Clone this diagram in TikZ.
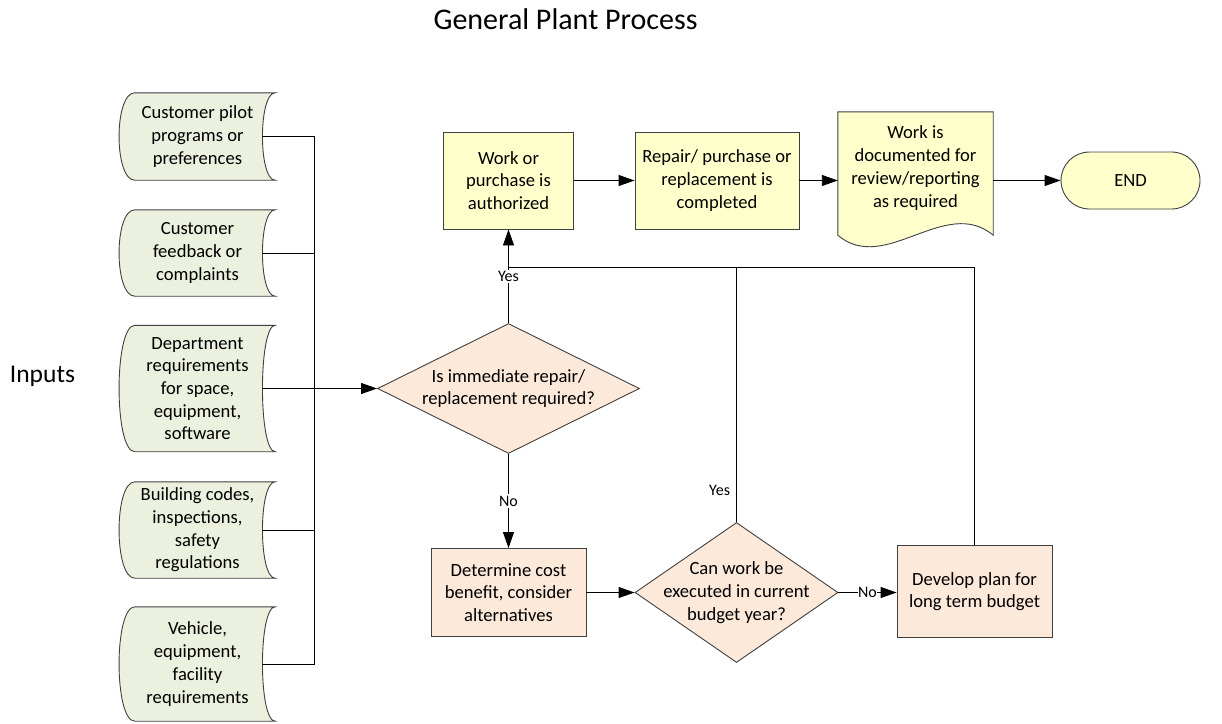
\documentclass[tikz,border=0pt]{standalone}
\usepackage{fontspec}
\setmainfont{Carlito}
\usetikzlibrary{shapes.geometric,arrows.meta,calc}
\pgfdeclarelayer{background}
\pgfsetlayers{background,main}

\definecolor{ingreen}{HTML}{EBF1DE}
\definecolor{boxyellow}{HTML}{FFFFCC}
\definecolor{peach}{HTML}{FDE9D9}
\definecolor{edge}{HTML}{404040}

% stored-data outline drawn behind a named node
\newcommand\storedshape[1]{%
  \begin{pgfonlayer}{background}
  \filldraw[fill=ingreen, draw=edge, line width=0.9pt]
    ([xshift=15pt]#1.north west) -- (#1.north east)
    .. controls ([xshift=-17pt]#1.north east) and ([xshift=-17pt]#1.south east) .. (#1.south east)
    -- ([xshift=15pt]#1.south west)
    .. controls ([xshift=-6pt]#1.south west) and ([xshift=-6pt]#1.north west) .. cycle;
  \end{pgfonlayer}}

\begin{document}
\begin{tikzpicture}[x=1pt,y=-1pt,
  font=\fontsize{18.6}{22.7}\selectfont,
  link/.style={draw=black, line width=0.9pt},
  flow/.style={link, -{Triangle[length=16pt,width=11pt]}},
  tag/.style={font=\fontsize{16}{19}\selectfont, fill=white, inner sep=1.5pt},
  inbox/.style={minimum width=155pt, inner sep=0pt, align=center},
  procbox/.style={rectangle, draw=edge, line width=0.9pt, inner sep=0pt, align=center},
  yellowbox/.style={procbox, fill=boxyellow},
  peachbox/.style={procbox, fill=peach},
  decision/.style={diamond, draw=edge, line width=0.9pt, fill=peach, inner sep=0pt},
  plain/.style={align=center, inner sep=0pt}]

\useasboundingbox (0,0) rectangle (1222,723);

% headings
\node[anchor=base, font=\fontsize{30}{36}\selectfont] (title) at (565.5,29) {General Plant Process};
\node[anchor=base, font=\fontsize{25.5}{30}\selectfont] (inputs) at (42.5,382) {Inputs};

% inputs
\node[inbox, minimum height=87pt] (in1) at (197.5,136.5) {Customer pilot\\programs or\\preferences};
\node[inbox, minimum height=86pt] (in2) at (197.5,253) {Customer\\feedback or\\complaints};
\node[inbox, minimum height=126pt] (in3) at (197.5,388.5) {Department\\requirements\\for space,\\equipment,\\software};
\node[inbox, minimum height=96pt] (in4) at (197.5,530) {Building codes,\\inspections,\\safety\\regulations};
\node[inbox, minimum height=114pt] (in5) at (197.5,664) {Vehicle,\\equipment,\\facility\\requirements};
\storedshape{in1}
\storedshape{in2}
\storedshape{in3}
\storedshape{in4}
\storedshape{in5}

% top row
\node[yellowbox, minimum width=130pt, minimum height=97pt] (box1) at (508.5,180.5) {Work or\\purchase is\\authorized};
\node[yellowbox, minimum width=164pt, minimum height=97pt] (box2) at (717,180.5) {Repair/ purchase or\\replacement is\\completed};
\node[minimum width=155pt, minimum height=123pt, inner sep=0pt] (doc) at (915.5,173.5) {};
\node[plain] (docT) at (915.5,168) {Work is\\documented for\\review/reporting\\as required};
\begin{pgfonlayer}{background}
\filldraw[fill=boxyellow, draw=edge, line width=0.9pt]
  (doc.north west) -- (doc.north east) -- (doc.south east)
  .. controls ($(doc.south east)+(-48,-40)$) and ($(doc.south west)+(47,40)$) .. (doc.south west) -- cycle;
\end{pgfonlayer}
\node[yellowbox, minimum width=139pt, minimum height=57pt, rounded corners=28.4pt] (fin) at (1130.5,180.5) {END};

% decisions and lower row
\node[decision, minimum width=262pt, minimum height=130pt] (d1) at (508.5,388.5) {};
\node[plain] (d1t) at (d1.center) {Is immediate repair/\\replacement required?};
\node[peachbox, minimum width=155pt, minimum height=88pt] (cost) at (508.5,592.5) {Determine cost\\benefit, consider\\alternatives};
\node[decision, minimum width=203pt, minimum height=140pt] (d2) at (736.5,592.5) {};
\node[plain] (d2t) at (d2.center) {Can work be\\executed in current\\budget year?};
\node[peachbox, minimum width=155pt, minimum height=92pt] (dev) at (974.5,591.5) {Develop plan for\\long term budget};

\coordinate (busx) at (314,0);
\coordinate (join) at (508.5,267);

% input bus
\draw[link] ([xshift=-13pt]in1.east) -- (in1.east -| busx) -- (in5.east -| busx) -- ([xshift=-13pt]in5.east);
\draw[link] ([xshift=-13pt]in2.east) -- (in2.east -| busx);
\draw[link] ([xshift=-13pt]in4.east) -- (in4.east -| busx);
\draw[flow] ([xshift=-13pt]in3.east) -- (d1.west);

% flow
\draw[flow] (d1.north) -- node[tag] (yes1) {Yes} (box1.south);
\draw[flow] (d1.south) -- node[tag] (no1) {No} (cost.north);
\draw[flow] (cost.east) -- (d2.west);
\draw[flow] (d2.east) -- node[tag, inner sep=0.5pt] (no2) {No} (d2.east -| dev.west);
\draw[link] (d2.north) -- node[pos=0.125, left, font=\fontsize{16}{19}\selectfont, inner sep=6pt] (yes2) {Yes} (d2.north |- join);
\draw[link] (dev.north) |- (join);
\draw[flow] (box1.east) -- (box2.west);
\draw[flow] (box2.east) -- (box2.east -| doc.west);
\draw[flow] (fin.west -| doc.east) -- (fin.west);
\end{tikzpicture}
\end{document}
